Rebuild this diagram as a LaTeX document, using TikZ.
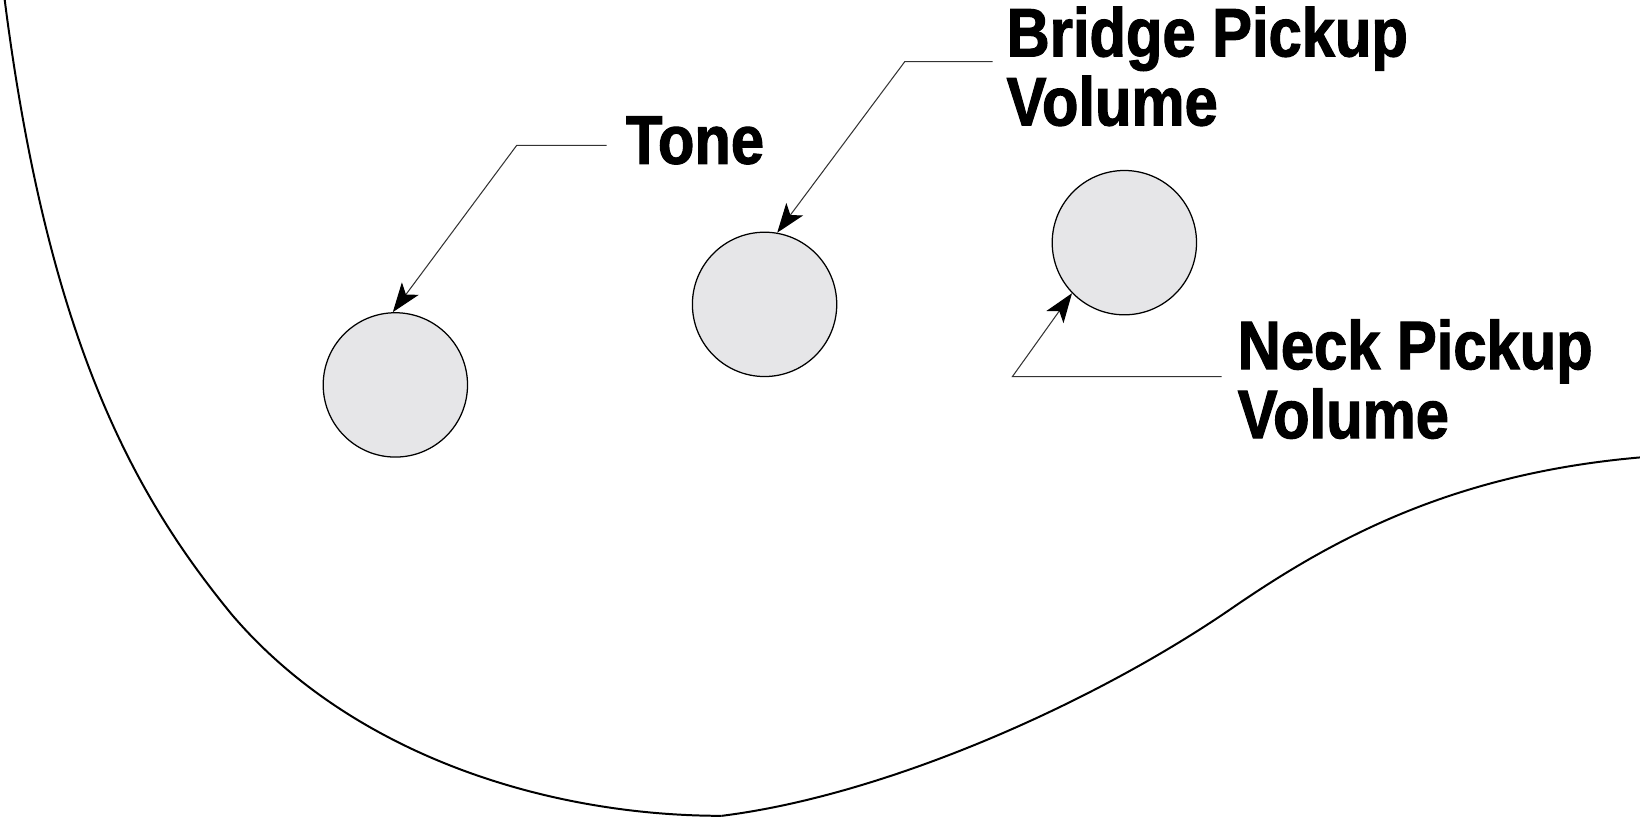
\documentclass[tikz,border=0pt]{standalone}
\usepackage{fontspec}
\usetikzlibrary{arrows.meta}
\newfontfamily\lblfont{Liberation Sans Bold}[FakeStretch=0.87, FakeBold=1.6]
\definecolor{knobfill}{HTML}{E6E6E8}
\definecolor{leadcol}{HTML}{333333}
\begin{document}
\begin{tikzpicture}[x=0.5pt,y=-0.5pt,
  knob/.style={circle, draw=black, line width=0.6pt, fill=knobfill, minimum size=69pt, inner sep=0pt},
  lbl/.style={font=\lblfont\fontsize{32.8}{33}\selectfont, align=left, inner sep=0pt, anchor=north west},
  leader/.style={draw=leadcol, line width=0.5pt, -{Stealth[length=14pt, width=10pt, inset=3.5pt, color=black]}},
  body/.style={draw=black, line width=0.95pt}]
\useasboundingbox (0,0) rectangle (1568,788);
% body outline
\draw[body] (4,-4) .. controls (45,320) and (125,470) .. (222,588)
  .. controls (335,720) and (520,780) .. (690,780);
\draw[body] (690,780) .. controls (850,760) and (1050,670) .. (1180,580)
  .. controls (1275,515) and (1390,452) .. (1572,437);
% knobs
\node[knob] (tone) at (378,368) {};
\node[knob] (bridge) at (731,291) {};
\node[knob] (neck) at (1075,232) {};
% labels
\node[lbl] (tonelbl) at (598,111) {Tone};
\node[lbl] (bridgelbl) at (962,6) {Bridge Pickup\\Volume};
\node[lbl] (necklbl) at (1183,305) {Neck Pickup\\Volume};
% leader lines
\coordinate (ts) at (580,139);
\coordinate (te) at (494,139);
\coordinate (bs) at (949,59);
\coordinate (be) at (865,59);
\coordinate (ns) at (1168,360);
\coordinate (ne) at (968,360);
\draw[leader] (ts) -- (te) -- (tone.92);
\draw[leader] (bs) -- (be) -- (bridge.80);
\draw[leader] (ns) -- (ne) -- (neck.224);
\end{tikzpicture}
\end{document}
